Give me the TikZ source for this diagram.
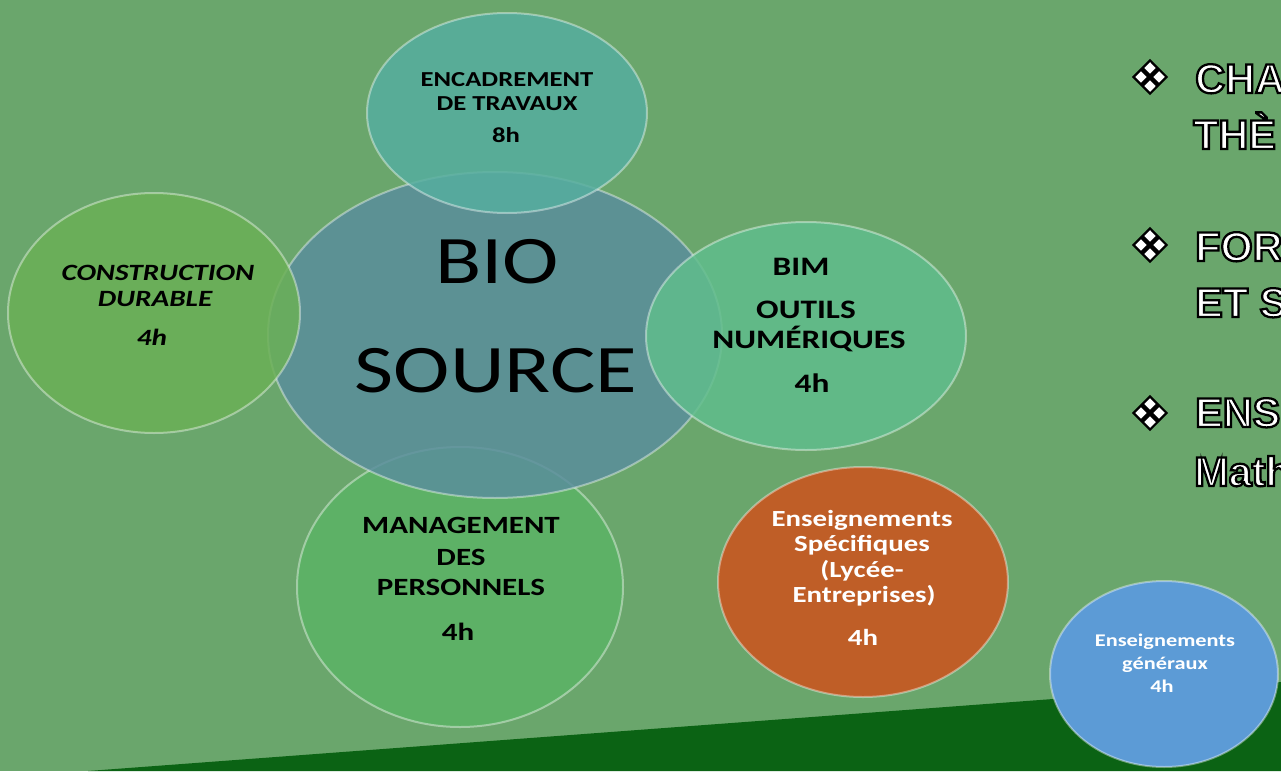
\documentclass[tikz,border=0pt]{standalone}
\usepackage{fontspec}
\setmainfont{Carlito}
\newfontfamily\bub[FakeStretch=1.25]{Carlito}
\newfontfamily\rtfont{Liberation Sans}
\newfontfamily\symfont{DejaVu Sans}
\usetikzlibrary{shapes.geometric}
\definecolor{bg}{HTML}{6AA66C}
\definecolor{band}{HTML}{0B6314}
\definecolor{cblue}{HTML}{5A8E9C}
\definecolor{cteal}{HTML}{56AE9F}
\definecolor{cleft}{HTML}{6BB056}
\definecolor{cright}{HTML}{60BD8C}
\definecolor{cbottom}{HTML}{5BB466}
\definecolor{corange}{HTML}{BF5E27}
\definecolor{csky}{HTML}{5C9BD6}
\newcommand\outl[1]{\special{pdf:code 2 Tr 1.7 w 0 0 0 RG}#1\special{pdf:code 0 Tr}}
\tikzset{
  bubble/.style={ellipse, inner sep=0pt, fill opacity=0.85, draw=white, draw opacity=0.4, line width=1.5pt},
  lab/.style={anchor=base, inner sep=0pt, text=black},
  wlab/.style={anchor=base, inner sep=0pt, text=white},
  rtext/.style={anchor=base west, inner sep=0pt, text=white, font=\rtfont\bfseries\fontsize{31pt}{36pt}\selectfont},
  bullet/.style={anchor=center, inner sep=0pt, text=white, font=\symfont\fontsize{34pt}{38pt}\selectfont}
}
\begin{document}
\begin{tikzpicture}[x=0.75pt,y=-0.75pt]
\useasboundingbox (0,0) rectangle (1281,771);
\clip (0,0) rectangle (1281,771);
\fill[bg] (0,0) rectangle (1281,771);
\fill[band] (88,771) -- (1281,682) -- (1281,771) -- cycle;

% bubbles
\node[bubble, fill=cbottom, minimum width={326*0.75pt}, minimum height={280*0.75pt}] (mgmt) at (460,587) {};
\node[bubble, fill=cblue, minimum width={454*0.75pt}, minimum height={326*0.75pt}] (bio) at (495,335) {};
\node[bubble, fill=cteal, minimum width={280*0.75pt}, minimum height={200*0.75pt}] (enc) at (507,113) {};
\node[bubble, fill=cleft, minimum width={292*0.75pt}, minimum height={240*0.75pt}] (cons) at (154,313) {};
\node[bubble, fill=cright, minimum width={320*0.75pt}, minimum height={228*0.75pt}] (bim) at (806,336) {};
\node[bubble, fill=corange, fill opacity=1, minimum width={290*0.75pt}, minimum height={230*0.75pt}] (spec) at (863,582) {};
\node[bubble, fill=csky, fill opacity=1, minimum width={228*0.75pt}, minimum height={186*0.75pt}] (gen) at (1164,674) {};

% texts
\begin{scope}[every node/.append style={font=\bub\bfseries\fontsize{16pt}{19pt}\selectfont}]
\node[lab] (enc1) at (507,86) {ENCADREMENT};
\node[lab] (enc2) at (507,110) {DE TRAVAUX};
\node[lab] (enc3) at (506,142) {8h};
\end{scope}
\begin{scope}[every node/.append style={font=\bub\bfseries\itshape\fontsize{17.5pt}{21pt}\selectfont}]
\node[lab] (cons1) at (158,280) {CONSTRUCTION};
\node[lab] (cons2) at (155,306) {DURABLE};
\node[lab] (cons3) at (152,345) {4h};
\end{scope}
\begin{scope}[every node/.append style={font=\bub\bfseries\fontsize{20pt}{24pt}\selectfont}]
\node[lab] (bim1) at (801,275) {BIM};
\node[lab] (bim2) at (806,318) {OUTILS};
\node[lab] (bim3) at (809,348) {NUMÉRIQUES};
\node[lab] (bim4) at (812,392) {4h};
\end{scope}
\begin{scope}[every node/.append style={font=\bub\bfseries\fontsize{18.6pt}{22pt}\selectfont}]
\node[lab] (mgmt1) at (461,533) {MANAGEMENT};
\node[lab] (mgmt2) at (461,565) {DES};
\node[lab] (mgmt3) at (461,595) {PERSONNELS};
\node[lab] (mgmt4) at (458,640) {4h};
\end{scope}
\begin{scope}[every node/.append style={font=\bub\fontsize{51pt}{60pt}\selectfont}]
\node[lab] (bio1) at (497,283) {BIO};
\node[lab] (bio2) at (496,392) {SOURCE};
\end{scope}
\begin{scope}[every node/.append style={font=\bub\bfseries\fontsize{17.3pt}{20pt}\selectfont}]
\node[wlab] (spec1) at (862,526) {Enseignements};
\node[wlab] (spec2) at (862,551) {Spécifiques};
\node[wlab] (spec3) at (862,577) {(Lycée-};
\node[wlab] (spec4) at (864,602) {Entreprises)};
\node[wlab] (spec5) at (863,645) {4h};
\end{scope}
\begin{scope}[every node/.append style={font=\bub\bfseries\fontsize{13.4pt}{16pt}\selectfont}]
\node[wlab] (gen1) at (1165,646) {Enseignements};
\node[wlab] (gen2) at (1165,669) {généraux};
\node[wlab] (gen3) at (1162,692) {4h};
\end{scope}

% right column
\node[bullet] (b1) at (1150,77) {\outl{❖}};
\node[bullet] (b2) at (1150,245) {\outl{❖}};
\node[bullet] (b3) at (1150,413) {\outl{❖}};
\node[rtext] (r1) at (1195,93) {\outl{CHA}};
\node[rtext] (r2) at (1193,149) {\outl{THÈ}};
\node[rtext] (r3) at (1195,261) {\outl{FOR}};
\node[rtext] (r4) at (1195,317) {\outl{ET S}};
\node[rtext] (r5) at (1195,427) {\outl{ENS}};
\node[rtext] (r6) at (1194,486) {\outl{Math}};
\end{tikzpicture}
\end{document}
